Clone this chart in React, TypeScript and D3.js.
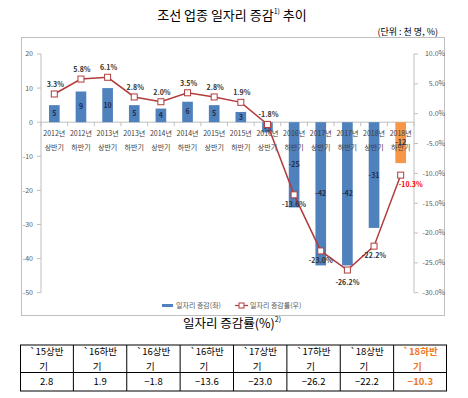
import React from 'react';
import * as d3 from 'd3';

const years = ['2012년', '2012년', '2013년', '2013년', '2014년', '2014년', '2015년', '2015년', '2016년', '2016년', '2017년', '2017년', '2018년', '2018년'];
const halves = ['상반기', '하반기', '상반기', '하반기', '상반기', '하반기', '상반기', '하반기', '상반기', '하반기', '상반기', '하반기', '상반기', '하반기'];
const jobChange = [5, 9, 10, 5, 4, 6, 5, 3, -3, -25, -42, -42, -31, -12];
const jobRate = [3.3, 5.8, 6.1, 2.8, 2.0, 3.5, 2.8, 1.9, -1.8, -13.6, -23.0, -26.2, -22.2, -10.3];
const leftTicks = [20, 10, 0, -10, -20, -30, -40, -50];
const rightTicks = [10, 5, 0, -5, -10, -15, -20, -25, -30];

const tableHeads = ['`15상반', '`16하반', '`16상반', '`16하반', '`17상반', '`17하반', '`18상반', '`18하반'];
const tableValues = ['2.8', '1.9', '−1.8', '−13.6', '−23.0', '−26.2', '−22.2', '−10.3'];

const FONT = '"Noto Sans CJK KR", "Noto Sans", sans-serif';
const BLUE = '#4F81BD';
const ORANGE = '#F79646';
const RED = '#B23B3B';
const GRID = '#BFBFBF';

const App: React.FC = () => {
  const idx = d3.range(years.length);
  const plot = { left: 41, right: 414, top: 54, bottom: 292.7 };

  const x = d3
    .scaleBand<number>()
    .domain(idx)
    .range([plot.left, plot.right])
    .paddingInner(0.6)
    .paddingOuter(0.3);
  const step = x.step();
  const cx = (i: number) => (x(i) as number) + x.bandwidth() / 2;

  const yL = d3.scaleLinear().domain([-50, 20]).range([plot.bottom, plot.top]);
  const yR = d3.scaleLinear().domain([-30, 10]).range([plot.bottom, plot.top]);

  const line = d3
    .line<number>()
    .x((d, i) => cx(i))
    .y((d) => yR(d));

  // label placement for the rate labels
  const rateLabel = (v: number, i: number) => {
    const last = i === jobRate.length - 1;
    if (last) return { dx: 10, dy: 12 };
    if (v > -5) return { dx: 1, dy: -7 };
    if (v < -25) return { dx: 0, dy: 15 };
    return { dx: 0, dy: 12 };
  };

  const tableX = d3.scaleBand<number>().domain(d3.range(tableHeads.length)).range([20, 447]);
  const tTop = 345;
  const tMid = 372.5;
  const tBot = 391;

  return (
    <svg
      width={468}
      height={398}
      style={{ position: 'absolute', left: 0, top: 0, background: '#fff' }}
      fontFamily={FONT}
    >
      {/* titles */}
      <text x={232} y={20} textAnchor="middle" fontSize={13} fill="#000">
        조선 업종 일자리 증감
        <tspan fontSize={7} dy={-6}>1)</tspan>
        <tspan dy={6}> 추이</tspan>
      </text>
      <text x={438} y={35} textAnchor="end" fontSize={9} fill="#000">
        (단위 : 천 명, %)
      </text>

      {/* chart frame */}
      <rect x={21.5} y={37.5} width={423} height={278} fill="none" stroke={GRID} />

      {/* axes */}
      <line x1={plot.left} x2={plot.left} y1={plot.top} y2={plot.bottom} stroke={GRID} />
      <line x1={plot.right} x2={plot.right} y1={plot.top} y2={plot.bottom} stroke={GRID} />
      {leftTicks.map((t) => (
        <g key={'l' + t}>
          <line x1={plot.left - 4} x2={plot.left} y1={yL(t)} y2={yL(t)} stroke={GRID} />
          <text x={plot.left - 8} y={yL(t)} dy="0.35em" textAnchor="end" fontSize={7} fill="#595959">
            {t}
          </text>
        </g>
      ))}
      {rightTicks.map((t) => (
        <g key={'r' + t}>
          <line x1={plot.right} x2={plot.right + 4} y1={yR(t)} y2={yR(t)} stroke={GRID} />
          <text x={plot.right + 31} y={yR(t)} dy="0.35em" textAnchor="end" fontSize={7} fill="#595959">
            {t.toFixed(1) + '%'}
          </text>
        </g>
      ))}
      <line x1={plot.left} x2={plot.right} y1={yL(0)} y2={yL(0)} stroke={GRID} />
      {d3.range(years.length + 1).map((i) => (
        <line
          key={'xt' + i}
          x1={plot.left + i * step}
          x2={plot.left + i * step}
          y1={yL(0)}
          y2={yL(0) + 4}
          stroke={GRID}
        />
      ))}

      {/* bars */}
      {jobChange.map((v, i) => (
        <rect
          key={'b' + i}
          x={x(i)}
          y={Math.min(yL(v), yL(0))}
          width={x.bandwidth()}
          height={Math.abs(yL(v) - yL(0))}
          fill={i === jobChange.length - 1 ? ORANGE : BLUE}
        />
      ))}

      {/* category labels (drawn over bars) */}
      {idx.map((i) => (
        <g key={'c' + i} fontSize={7} fill="#404040" textAnchor="middle">
          <text x={cx(i)} y={136}>{years[i]}</text>
          <text x={cx(i)} y={150}>{halves[i]}</text>
        </g>
      ))}

      {/* bar values */}
      {jobChange.map((v, i) => (
        <text
          key={'bv' + i}
          x={cx(i)}
          y={(yL(v) + yL(0)) / 2 + (i === 8 ? 1.5 : 0)}
          dy="0.35em"
          textAnchor="middle"
          fontSize={7}
          fontWeight="bold"
          fill="#1F2D4D"
        >
          {v}
        </text>
      ))}

      {/* rate line */}
      <path d={line(jobRate) || ''} fill="none" stroke={RED} strokeWidth={1.5} />
      {jobRate.map((v, i) => (
        <rect
          key={'m' + i}
          x={cx(i) - 3}
          y={yR(v) - 3}
          width={6}
          height={6}
          fill="#fff"
          stroke={RED}
          strokeWidth={1}
        />
      ))}
      {jobRate.map((v, i) => {
        const p = rateLabel(v, i);
        return (
          <text
            key={'rv' + i}
            x={cx(i) + p.dx}
            y={yR(v) + p.dy}
            textAnchor="middle"
            fontSize={7}
            fontWeight="bold"
            fill={i === jobRate.length - 1 ? '#FF0000' : '#333'}
          >
            {v.toFixed(1) + '%'}
          </text>
        );
      })}

      {/* legend */}
      <rect x={162} y={304} width={11} height={3} fill={BLUE} />
      <text x={176} y={306} dy="0.35em" fontSize={7} fill="#595959">
        일자리 증감(좌)
      </text>
      <line x1={235} x2={248} y1={305.5} y2={305.5} stroke={RED} strokeWidth={1.2} />
      <rect x={239} y={303} width={5} height={5} fill="#fff" stroke={RED} />
      <text x={250} y={306} dy="0.35em" fontSize={7} fill="#595959">
        일자리 증감률(우)
      </text>

      {/* table title */}
      <text x={232} y={328} textAnchor="middle" fontSize={12.5} fill="#000">
        일자리 증감률(%)
        <tspan fontSize={7} dy={-6}>2)</tspan>
      </text>

      {/* table */}
      <rect x={20.5} y={tTop} width={426} height={tBot - tTop} fill="none" stroke="#000" />
      <line x1={20.5} x2={446.5} y1={tMid} y2={tMid} stroke="#000" />
      {tableHeads.map((h, i) => {
        const x0 = tableX(i) as number;
        const mid = x0 + tableX.bandwidth() / 2;
        const last = i === tableHeads.length - 1;
        const color = last ? '#F07820' : '#000';
        const weight = last ? 'bold' : 'normal';
        return (
          <g key={'t' + i}>
            {i > 0 && <line x1={x0} x2={x0} y1={tTop} y2={tBot} stroke="#000" />}
            <text x={mid} y={352} dy="0.35em" textAnchor="middle" fontSize={9.5} fill={color} fontWeight={weight}>
              {h}
            </text>
            <text x={mid - 3} y={367} dy="0.35em" textAnchor="middle" fontSize={9.5} fill={color} fontWeight={weight}>
              기
            </text>
            <text x={mid} y={382} dy="0.35em" textAnchor="middle" fontSize={9.5} fill={color} fontWeight={weight}>
              {tableValues[i]}
            </text>
          </g>
        );
      })}
    </svg>
  );
};

export default App;
